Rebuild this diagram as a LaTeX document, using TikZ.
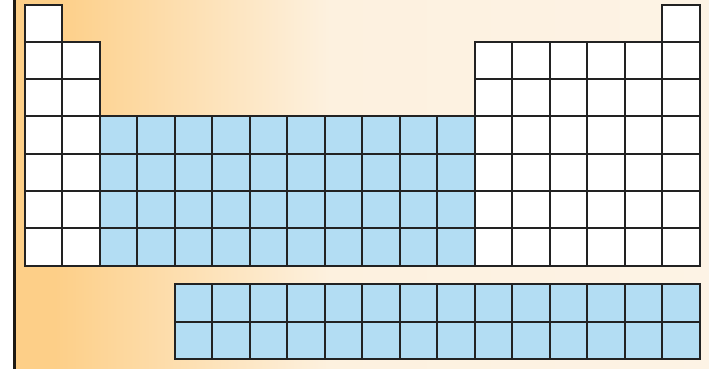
\documentclass[tikz,border=0pt]{standalone}
\usetikzlibrary{positioning}
\definecolor{orangeA}{HTML}{FDCF88}
\definecolor{creamB}{HTML}{FDF1DF}
\definecolor{creamC}{HTML}{FDF3E5}
\definecolor{blueC}{HTML}{B3DDF3}
\definecolor{lineC}{HTML}{222222}
\definecolor{edgeC}{HTML}{1E1A14}
\tikzset{
  cell/.style={rectangle, draw=lineC, line width=2pt, inner sep=0pt,
    minimum width=37.5pt, minimum height=37.3pt, anchor=north west},
  plaincell/.style={cell, fill=white},
  bluecell/.style={cell, fill=blueC},
  lancell/.style={cell, fill=blueC, minimum height=37.2pt},
}
\begin{document}
\begin{tikzpicture}[x=1pt,y=-1pt]
\useasboundingbox (0,0) rectangle (709,368);
% background
\fill[white] (-5,-5) rectangle (715,375);
\fill[orangeA] (15,-5) rectangle (55,375);
\shade[left color=orangeA, right color=creamB] (55,-5) rectangle (330,375);
\shade[left color=creamB, right color=creamC] (330,-5) rectangle (715,375);
% left edge line
\coordinate (edgetop) at (14,-5);
\coordinate (edgebot) at (14,375);
\draw[edgeC, line width=3pt] (edgetop) -- (edgebot);
% main table
\def\xo{23.5}\def\yo{3.5}\def\cw{37.5}\def\rh{37.3}
% row 0
\foreach \c in {0,17}
  \node[plaincell] (m-0-\c) at ({\xo+\c*\cw},{\yo}) {};
% rows 1-2
\foreach \r in {1,2}
  \foreach \c in {0,1,12,13,14,15,16,17}
    \node[plaincell] (m-\r-\c) at ({\xo+\c*\cw},{\yo+\r*\rh}) {};
% rows 3-6
\foreach \r in {3,...,6}{
  \foreach \c in {0,1,12,13,14,15,16,17}
    \node[plaincell] (m-\r-\c) at ({\xo+\c*\cw},{\yo+\r*\rh}) {};
  \foreach \c in {2,...,11}
    \node[bluecell] (m-\r-\c) at ({\xo+\c*\cw},{\yo+\r*\rh}) {};
}
% lanthanides / actinides
\foreach \r in {0,1}
  \foreach \c in {4,...,17}
    \node[lancell] (f-\r-\c) at ({\xo+\c*\cw},{283.3+\r*37.2}) {};
\end{tikzpicture}
\end{document}
